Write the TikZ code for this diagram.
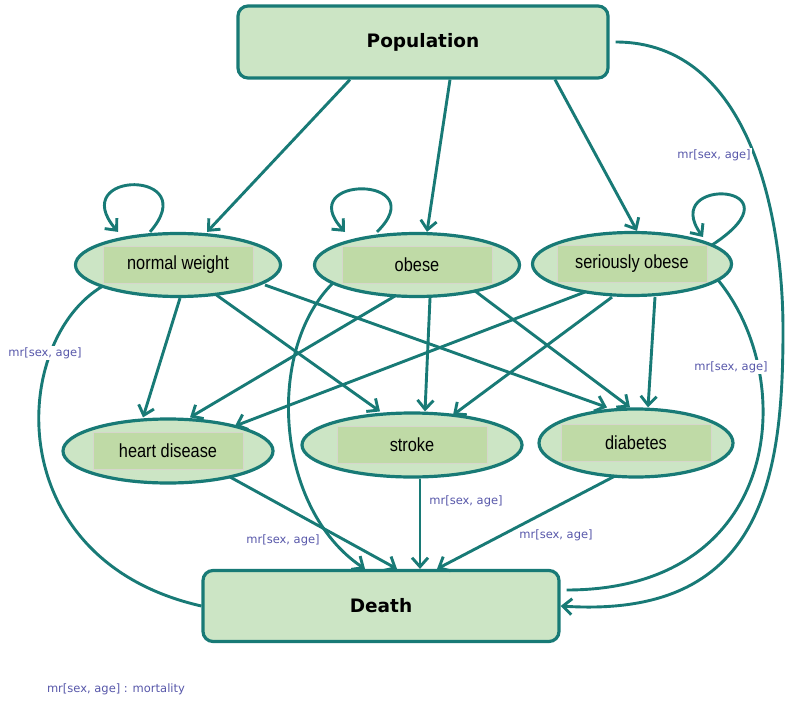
\documentclass[tikz,border=0pt]{standalone}
\usepackage{fontspec}
\setmainfont{Liberation Sans}
\newfontfamily\narrowfont[FakeStretch=0.86]{Liberation Sans}
\newfontfamily\titlefont{DejaVu Sans}
\usetikzlibrary{shapes.geometric,arrows.meta}

\definecolor{edgeteal}{RGB}{24,122,118}
\definecolor{boxgreen}{RGB}{204,229,197}
\definecolor{tabgreen}{RGB}{191,218,166}
\definecolor{tabrim}{RGB}{214,214,204}
\definecolor{ratepurple}{RGB}{88,88,170}

\tikzset{
  compartment/.style={rectangle, rounded corners=10pt, draw=edgeteal, line width=3.2pt, fill=boxgreen, font=\titlefont\bfseries\fontsize{18.5}{21}\selectfont},
  state/.style={ellipse, draw=edgeteal, line width=3.2pt, fill=boxgreen, inner sep=0pt, font=\narrowfont\fontsize{19}{22}\selectfont,
    path picture={\draw[draw=tabrim, fill=tabgreen, line width=0.8pt] ([shift={(-75pt,-18.5pt)}]path picture bounding box.center) rectangle ([shift={(75pt,18.5pt)}]path picture bounding box.center);}},
  flow/.style={draw=edgeteal, line width=2.9pt, -{Straight Barb[length=9pt,width=16pt]}},
  exit/.style={draw=edgeteal, line width=2.9pt},
  rate/.style={fill=white, inner sep=1pt, text=ratepurple, font=\titlefont\fontsize{11.5}{13}\selectfont},
}

\begin{document}
\begin{tikzpicture}[x=1pt, y=-1pt]
  \useasboundingbox (0,0) rectangle (786,703);

  % Compartments
  \node[compartment, minimum width=370, minimum height=72] (pop) at (423,42) {Population};
  \node[compartment, minimum width=356, minimum height=71] (death) at (381,606) {Death};

  % Weight states
  \node[state, minimum width=205, minimum height=63] (nw) at (178,265) {normal weight};
  \node[state, minimum width=205, minimum height=63] (ob) at (417,265) {obese};
  \node[state, minimum width=199, minimum height=63] (so) at (632,264) {seriously obese};

  % Diseases
  \node[state, minimum width=210, minimum height=64] (hd) at (168,451) {heart disease};
  \node[state, minimum width=220, minimum height=64] (st) at (412,445) {stroke};
  \node[state, minimum width=194, minimum height=68] (di) at (636,443) {diabetes};

  \coordinate (bend) at (783,330);

  % Inflow
  \draw[flow] ([xshift=-73]pop.south) -- ([xshift=29]nw.north);
  \draw[flow] ([xshift=27]pop.south) -- ([xshift=10]ob.north);
  \draw[flow] ([xshift=132]pop.south) -- ([xshift=5]so.north);

  % Stay
  \draw[flow] ([xshift=-28]nw.north) .. controls +(55,-63) and +(-53,-62) .. ([xshift=-60]nw.north);
  \draw[flow] ([xshift=-40]ob.north) .. controls +(58,-57) and +(-53,-57) .. ([xshift=-72]ob.north);
  \draw[flow] ([shift={(80,-19)}]so.center) .. controls +(95,-62) and +(-45,-62) .. ([shift={(71,-27)}]so.center);

  % Weight -> disease
  \draw[flow] ([xshift=2]nw.south) -- ([xshift=-25]hd.north);
  \draw[flow] ([shift={(37,29)}]nw.center) -- ([xshift=-32]st.north);
  \draw[flow] ([shift={(87,20)}]nw.center) -- ([xshift=-29]di.north);
  \draw[flow] ([shift={(-22,31)}]ob.center) -- ([xshift=22]hd.north);
  \draw[flow] ([xshift=13]ob.south) -- ([xshift=13]st.north);
  \draw[flow] ([shift={(58,26)}]ob.center) -- ([xshift=-6]di.north);
  \draw[flow] ([shift={(-47,28)}]so.center) -- ([shift={(67,-25)}]hd.center);
  \draw[flow] ([xshift=-20]so.south) -- ([shift={(41,-30)}]st.center);
  \draw[flow] ([xshift=23]so.south) -- ([xshift=12]di.north);

  % Mortality
  \draw[flow] ([shift={(62,26)}]hd.center) -- ([xshift=16]death.north);
  \draw[flow] ([shift={(-84,18)}]ob.center) .. controls +(-68,67) and +(-90,-60) .. ([xshift=-16]death.north);
  \draw[flow] ([xshift=8]st.south) -- ([xshift=39]death.north);
  \draw[flow] ([shift={(-21,33)}]di.center) -- ([xshift=56]death.north);
  \draw[exit] ([shift={(-75,21)}]nw.center) .. controls +(-93,54) and +(-203,-46) .. (death.west);
  \draw[exit] ([shift={(86,16)}]so.center) .. controls +(82,100) and +(215,0) .. ([xshift=6,yshift=16]death.east);
  \draw[flow] ([xshift=6]pop.east) .. controls +(136,0) and +(0,-110) .. (bend) .. controls +(0,150) and +(201,13) .. (death.east);

  % Rate labels
  \node[rate] (mrpop) at (714,155) {mr[sex, age]};
  \node[rate] (mrnw) at (45,353) {mr[sex, age]};
  \node[rate] (mrso) at (731,367) {mr[sex, age]};
  \node[rate] (mrhd) at (283,540) {mr[sex, age]};
  \node[rate] (mrst) at (466,501) {mr[sex, age]};
  \node[rate] (mrdi) at (556,535) {mr[sex, age]};
  \node[rate] (legend) at (116,689) {mr[sex, age] : mortality};
\end{tikzpicture}
\end{document}
